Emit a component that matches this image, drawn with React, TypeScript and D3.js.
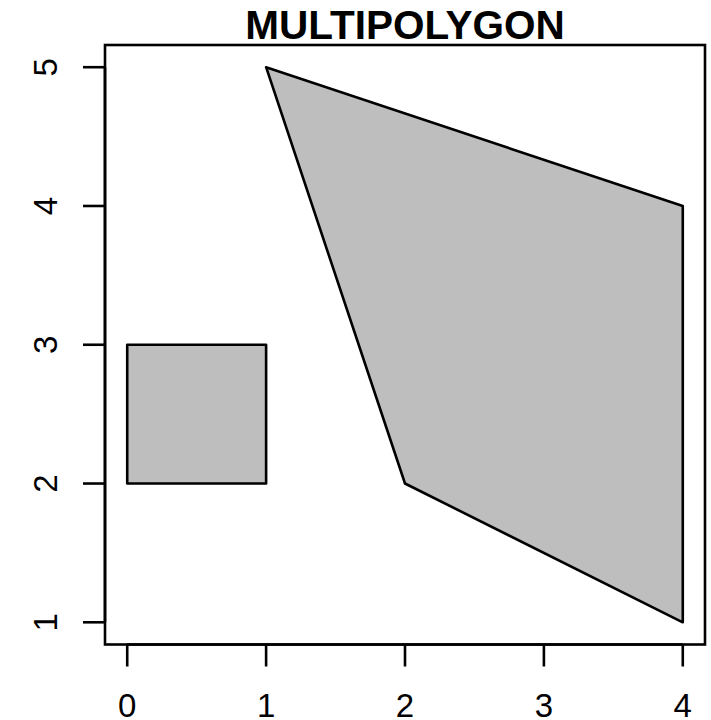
import React from "react";
import * as d3 from "d3";

const title = "MULTIPOLYGON";
const polygons: [number, number][][] = [
  [[0, 2], [1, 2], [1, 3], [0, 3]],
  [[1, 5], [4, 4], [4, 1], [2, 2]],
];
const xTicks = [0, 1, 2, 3, 4];
const yTicks = [1, 2, 3, 4, 5];
const xRange: [number, number] = [0, 4];
const yRange: [number, number] = [1, 5];

export default function App() {
  const W = 711, H = 720;
  const left = 105, right = 705, top = 45, bottom = 644.5;
  const ex = (xRange[1] - xRange[0]) * 0.04;
  const ey = (yRange[1] - yRange[0]) * 0.04;
  const x = d3.scaleLinear().domain([xRange[0] - ex, xRange[1] + ex]).range([left, right]);
  const y = d3.scaleLinear().domain([yRange[0] - ey, yRange[1] + ey]).range([bottom, top]);
  const line = d3.line<[number, number]>().x(d => x(d[0])).y(d => y(d[1]));
  const font = "'Liberation Sans', Arial, Helvetica, sans-serif";
  return (
    <svg width={W} height={H} style={{ position: "absolute", left: 0, top: 0, background: "#fff" }}>
      <rect x={0} y={0} width={W} height={H} fill="#fff" />
      {polygons.map((p, i) => (
        <path key={i} d={line(p) + "Z"} fill="#BEBEBE" stroke="#000" strokeWidth={2.6} strokeLinejoin="round" />
      ))}
      <rect x={left} y={top} width={right - left} height={bottom - top} fill="none" stroke="#000" strokeWidth={2.6} />
      <line x1={x(xTicks[0])} x2={x(xTicks[xTicks.length - 1])} y1={bottom} y2={bottom} stroke="#000" strokeWidth={2.6} />
      {xTicks.map(t => (
        <g key={t}>
          <line x1={x(t)} x2={x(t)} y1={bottom} y2={bottom + 22} stroke="#000" strokeWidth={2.6} />
          <text x={x(t)} y={716.5} textAnchor="middle" fontFamily={font} fontSize={33}>{t}</text>
        </g>
      ))}
      <line x1={left} x2={left} y1={y(yTicks[0])} y2={y(yTicks[yTicks.length - 1])} stroke="#000" strokeWidth={2.6} />
      {yTicks.map(t => (
        <g key={t}>
          <line x1={left - 22} x2={left} y1={y(t)} y2={y(t)} stroke="#000" strokeWidth={2.6} />
          <text transform={`translate(57,${y(t)}) rotate(-90)`} textAnchor="middle" fontFamily={font} fontSize={33}>{t}</text>
        </g>
      ))}
      <text x={(left + right) / 2} y={39} textAnchor="middle" fontFamily={font} fontSize={40.5} fontWeight="bold">{title}</text>
    </svg>
  );
}
